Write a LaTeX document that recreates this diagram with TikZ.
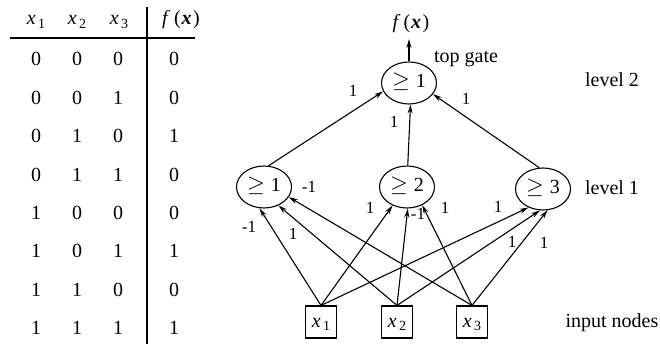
\documentclass[tikz,border=0pt]{standalone}
\usepackage{fontspec}
\setmainfont{Liberation Serif}
\usetikzlibrary{shapes.geometric,arrows.meta}
\newcommand\xsub[1]{\textit{x}\kern2.5pt\raisebox{-0.35ex}{\fontsize{14}{14}\selectfont #1}}
\newcommand\fofx[1]{\textit{f}\kern#1(\kern1pt\textbf{\textit{x}}\kern1.5pt)}
\newcommand\geqsym{\scalebox{1.1}{$\geq$}\hspace{6pt}}
\begin{document}
\begin{tikzpicture}[x=1pt,y=-1pt,
  every node/.style={font=\fontsize{20}{24}\selectfont, inner sep=0pt, text height=14pt, text depth=4pt},
  gate/.style={draw, ellipse, line width=1.1pt, minimum width=55pt, minimum height=42pt},
  inbox/.style={draw, rectangle, line width=1.1pt, minimum width=31pt, minimum height=32pt},
  wt/.style={font=\fontsize{17}{19}\selectfont, text height=12pt, text depth=3pt},
  edge/.style={line width=1.1pt, -{Stealth[length=9pt,width=5pt]}},
  rule/.style={line width=1.4pt}]
\useasboundingbox (0,0) rectangle (660,344);

% ---- truth table ----
\node (h1) at (36,20) {\xsub{1}};
\node (h2) at (77,20) {\xsub{2}};
\node (h3) at (119,20) {\xsub{3}};
\node (hf) at (181,20) {\fofx{4pt}};
\coordinate (hl0) at (10,38);
\coordinate (hl1) at (195,38);
\coordinate (vl0) at (147,7);
\coordinate (vl1) at (147,344);
\draw[rule] (hl0) -- (hl1);
\draw[rule] (vl0) -- (vl1);
\foreach \a/\b/\c/\f [count=\i from 0] in {0/0/0/0,0/0/1/0,0/1/0/1,0/1/1/0,1/0/0/0,1/0/1/1,1/1/0/0,1/1/1/1}{
  \node (r\i a) at (36,61+38.4*\i) {\a};
  \node (r\i b) at (77,61+38.4*\i) {\b};
  \node (r\i c) at (118,61+38.4*\i) {\c};
  \node (r\i f) at (174,61+38.4*\i) {\f};
}

% ---- network ----
\node[gate] (top) at (409,83) {\geqsym 1};
\node[gate] (g1) at (264,187) {\geqsym 1};
\node[gate] (g2) at (407,187) {\geqsym 2};
\node[gate] (g3) at (543,189) {\geqsym 3};
\node[inbox] (x1) at (321,322) {\xsub{1}};
\node[inbox] (x2) at (397,322) {\xsub{2}};
\node[inbox] (x3) at (472,322) {\xsub{3}};

\coordinate (out) at (409,39);
\node (fx) at (411,24) {\fofx{3pt}};
\draw[edge] (top.north) -- (out);

\draw[edge] (g1.78) -- (top.198);
\draw[edge] (g2.88) -- (top.274);
\draw[edge] (g3.100) -- (top.335);

\draw[edge] (x1.north) -- (g1.258);
\draw[edge] (x2.north) -- (g1.308);
\draw[edge] (x3.north) -- (g1.338);
\draw[edge] (x1.north) -- (g2.232);
\draw[edge] (x2.north) -- (g2.272);
\draw[edge] (x3.north) -- (g2.310);
\draw[edge] (x1.north) -- (g3.232);
\draw[edge] (x2.north) -- (g3.262);
\draw[edge] (x3.north) -- (g3.282);

% weights
\node[wt] (w1) at (353,92) {1};
\node[wt] (w2) at (394,123) {1};
\node[wt] (w3) at (466,100) {1};
\node[wt] (w4) at (309,188) {-1};
\node[wt] (w5) at (249,228) {-1};
\node[wt] (w6) at (293,235) {1};
\node[wt] (w7) at (370,209) {1};
\node[wt] (w8) at (418,215) {-1};
\node[wt] (w9) at (445,209) {1};
\node[wt] (w10) at (498,208) {1};
\node[wt] (w11) at (512,243) {1};
\node[wt] (w12) at (544,244) {1};

% side labels
\node (tg) at (466,58) {top gate};
\node (lv2) at (612,82) {level 2};
\node (lv1) at (612,190) {level 1};
\node (inn) at (612,322) {input nodes};
\end{tikzpicture}
\end{document}
